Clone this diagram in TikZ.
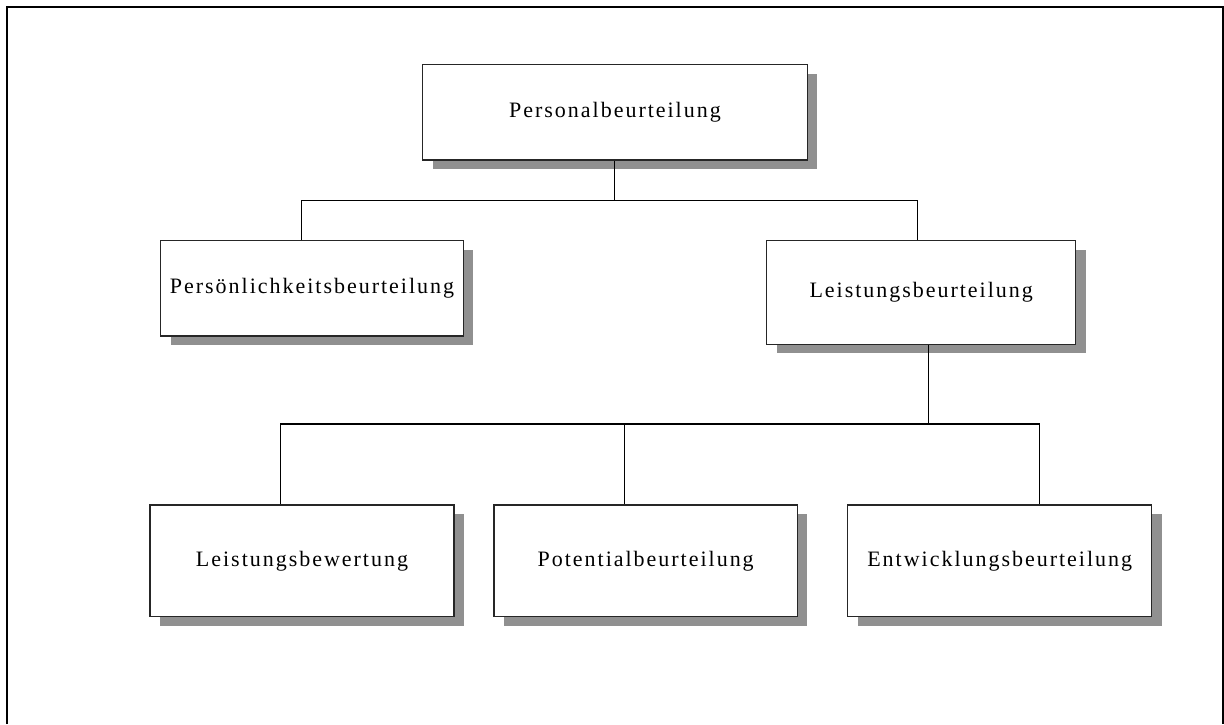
\documentclass[tikz,border=0pt]{standalone}
\usepackage{fontspec}
\setmainfont{Liberation Serif}[LetterSpace=9]
\usetikzlibrary{shadows}
\definecolor{shadowgray}{HTML}{909090}
\tikzset{
  box/.style={draw=black!85, line width=1.4pt, fill=white, inner sep=0pt,
    font=\fontsize{22}{26}\selectfont,
    drop shadow={shadow xshift=10pt, shadow yshift=-9pt, opacity=1, fill=shadowgray}},
  link/.style={draw=black, line width=1.3pt},
  frame/.style={draw=black, line width=2.5pt}
}
\begin{document}
\begin{tikzpicture}[x=1pt,y=-1pt]
\useasboundingbox (0,0) rectangle (1224,724);
\draw[frame] (7,724) -- (7,7) -- (1223,7) -- (1223,724);

\node[box, minimum width=384.6pt, minimum height=95.3pt] (top) at (615,112.4) {Personalbeurteilung};
\node[box, minimum width=302.6pt, minimum height=95.3pt] (pers) at (312,288.4) {Persönlichkeitsbeurteilung};
\node[box, minimum width=309pt, minimum height=103.6pt] (leist) at (921.2,292.5) {Leistungsbeurteilung};
\node[box, minimum width=304pt, minimum height=111.7pt] (lb) at (302,560.8) {Leistungsbewertung};
\node[box, minimum width=303.3pt, minimum height=111.7pt] (pb) at (645.7,560.8) {Potentialbeurteilung};
\node[box, minimum width=304pt, minimum height=111.7pt] (eb) at (999.7,560.8) {Entwicklungsbeurteilung};

\coordinate (j1) at (614.3,200.7);
\coordinate (p1) at (301.3,200.7);
\coordinate (l1) at (917.7,200.7);
\draw[link] (j1 |- top.south) -- (j1);
\draw[link] (p1 |- pers.north) -- (p1) -- (l1) -- (l1 |- leist.north);

\coordinate (j2) at (928.3,424);
\coordinate (a2) at (280.7,424);
\coordinate (b2) at (624.7,424);
\coordinate (c2) at (1039.8,424);
\draw[link] (j2 |- leist.south) -- (j2);
\draw[link] (a2 |- lb.north) -- (a2) -- (c2) -- (c2 |- eb.north);
\draw[link] (b2) -- (b2 |- pb.north);
\end{tikzpicture}
\end{document}
